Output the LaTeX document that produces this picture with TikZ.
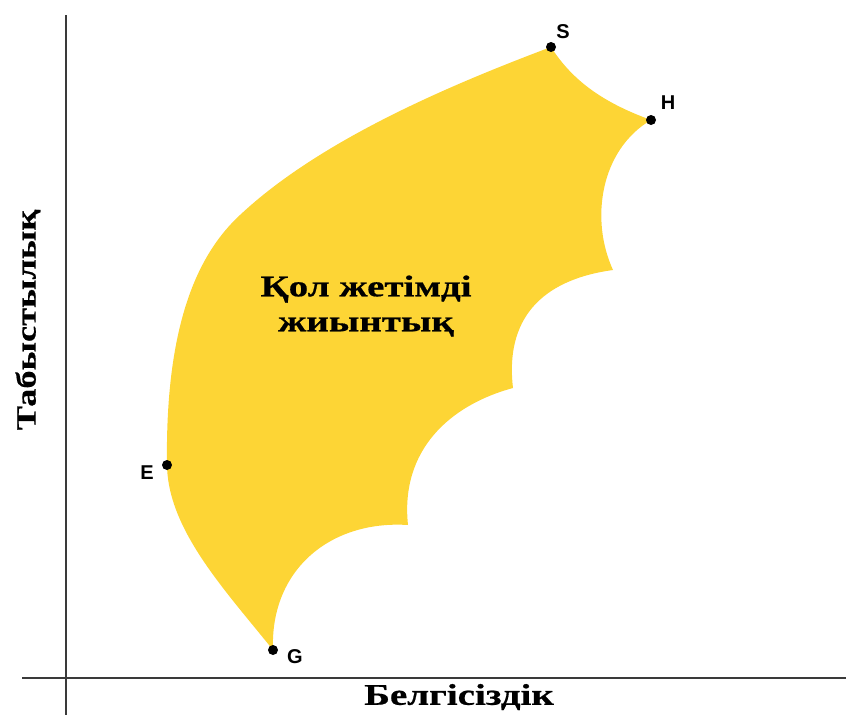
\documentclass[tikz,border=0pt]{standalone}
\usepackage{fontspec}
\setmainfont{Liberation Serif}
\newfontfamily\titlefont[FakeStretch=1.3, FakeBold=0.6]{Liberation Serif}
\newfontfamily\labelfont{Liberation Sans}
\usetikzlibrary{positioning}
\definecolor{setyellow}{HTML}{FDD535}
\definecolor{axisgray}{HTML}{3A3A3A}

\begin{document}
\begin{tikzpicture}[x=1pt, y=-1pt,
    axis/.style={draw=axisgray, line width=2.2pt},
    dot/.style={circle, fill=black, inner sep=0pt, minimum size=10pt},
    ptlabel/.style={font=\labelfont\bfseries\fontsize{20}{22}\selectfont, inner sep=1pt},
    title/.style={font=\titlefont\bfseries\fontsize{30}{35}\selectfont, align=center},
]
\useasboundingbox (0,0) rectangle (846,715);

% corner points of the set
\coordinate (S) at (551,47);
\coordinate (H) at (651,120);
\coordinate (E) at (167,465);
\coordinate (G) at (273,650);

% reachable set
\fill[setyellow] (S)
    .. controls (450,85) and (320,140) .. (240,215)
    .. controls (200,252) and (165,320) .. (E)
    .. controls (168,530) and (225,590) .. (G)
    .. controls (270,570) and (330,520) .. (408,525)
    .. controls (400,450) and (450,405) .. (513,388)
    .. controls (505,320) and (540,280) .. (613,270)
    .. controls (590,220) and (600,150) .. (H)
    .. controls (610,105) and (575,85) .. (S) -- cycle;

% axes
\draw[axis] (66,15) -- (66,715);
\draw[axis] (22,678) -- (846,678);

\node[title] (set) at (366,306) {Қол жетімді\\жиынтық};
\node[title, rotate=90, font=\titlefont\bfseries\fontsize{28}{32}\selectfont] (ylab) at (28,320) {Табыстылық};
\node[title] (xlab) at (459,697) {Белгісіздік};

\foreach \p in {S,H,E,G}
    \node[dot] at (\p) {};
\node[ptlabel] (lS) at (563,32) {S};
\node[ptlabel] (lH) at (668,103) {H};
\node[ptlabel] (lE) at (147,473) {E};
\node[ptlabel] (lG) at (295,657) {G};
\end{tikzpicture}
\end{document}
